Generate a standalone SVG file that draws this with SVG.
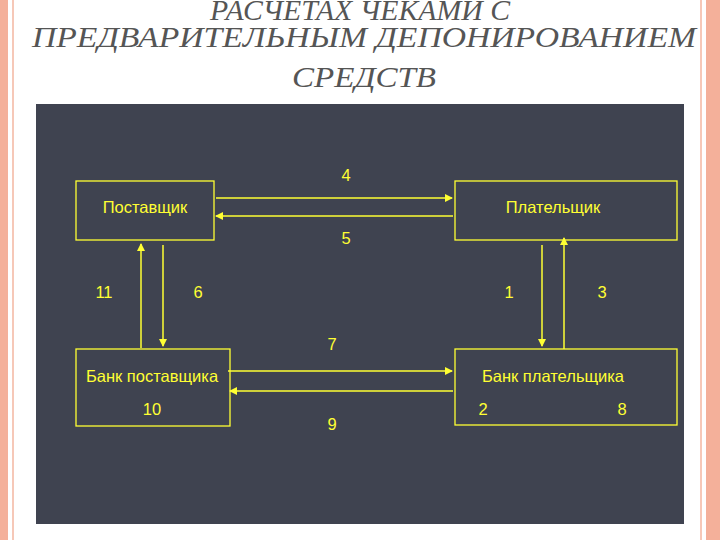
<svg xmlns="http://www.w3.org/2000/svg" width="720" height="540" viewBox="0 0 720 540">
<defs>
<style>
.t{font-family:"Liberation Serif",serif;font-size:30px;fill:#555;text-anchor:middle;font-style:italic}
.b{fill:none;stroke:#ffff33;stroke-width:1.3}
.l{font-family:"Liberation Sans",Arial,sans-serif;font-size:16.5px;fill:#ffff33;text-anchor:middle}
.c{stroke:#ffff33;stroke-width:1.5;fill:none;marker-end:url(#a)}
</style>
<marker id="a" markerWidth="8" markerHeight="8" refX="7" refY="4" orient="auto" markerUnits="userSpaceOnUse"><path d="M0,0L8,4L0,8z" fill="#ffff33"/></marker>
</defs>
<rect width="720" height="540" fill="#fff"/>
<rect x="0" y="0" width="8" height="540" fill="#f4b09a"/>
<rect x="12" y="0" width="2" height="540" fill="#f6c8b8"/>
<rect x="706" y="0" width="14" height="540" fill="#f4b09a"/>
<rect x="700" y="0" width="2" height="540" fill="#f6c8b8"/>
<text class="t" x="360" y="20" font-size="24" textLength="300" lengthAdjust="spacingAndGlyphs">РАСЧЕТАХ ЧЕКАМИ С</text>
<text class="t" x="364" y="47" textLength="664" lengthAdjust="spacingAndGlyphs">ПРЕДВАРИТЕЛЬНЫМ ДЕПОНИРОВАНИЕМ</text>
<text class="t" x="364" y="87" textLength="144" lengthAdjust="spacingAndGlyphs">СРЕДСТВ</text>
<rect x="36" y="104" width="648" height="420" fill="#3f4350"/>
<g id="n1"><rect class="b" x="76" y="181" width="138" height="59"/><text class="l" x="145" y="213">Поставщик</text></g>
<g id="n2"><rect class="b" x="455" y="181" width="222" height="59"/><text class="l" x="553" y="213">Плательщик</text></g>
<g id="n3"><rect class="b" x="76" y="349" width="154" height="77"/><text class="l" x="152" y="382">Банк поставщика</text><text class="l" x="152" y="415">10</text></g>
<g id="n4"><rect class="b" x="455" y="349" width="222" height="76"/><text class="l" x="553" y="382">Банк плательщика</text><text class="l" x="483" y="415">2</text><text class="l" x="622" y="415">8</text></g>
<g id="edges">
<line class="c" x1="216" y1="198" x2="452" y2="198"/>
<line class="c" x1="453" y1="216" x2="216" y2="216"/>
<line class="c" x1="163" y1="245" x2="163" y2="346"/>
<line class="c" x1="141" y1="348" x2="141" y2="244"/>
<line class="c" x1="542" y1="245" x2="542" y2="346"/>
<line class="c" x1="564" y1="349" x2="564" y2="238"/>
<line class="c" x1="228" y1="371" x2="452" y2="371"/>
<line class="c" x1="453" y1="391" x2="230" y2="391"/>
<text class="l" x="346" y="181">4</text>
<text class="l" x="346" y="244">5</text>
<text class="l" x="104" y="298">11</text>
<text class="l" x="198" y="298">6</text>
<text class="l" x="509" y="298">1</text>
<text class="l" x="602" y="298">3</text>
<text class="l" x="332" y="350">7</text>
<text class="l" x="332" y="430">9</text>
</g>
</svg>
